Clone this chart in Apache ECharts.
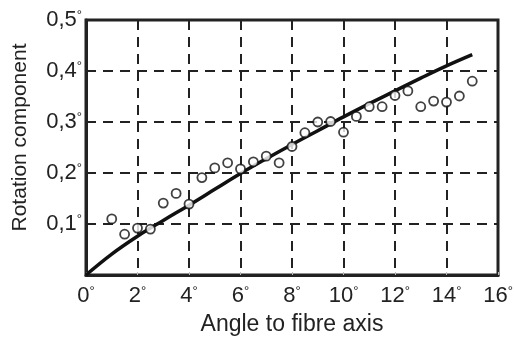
<!DOCTYPE html>
<html>
<head>
<meta charset="utf-8">
<script src="https://cdn.jsdelivr.net/npm/echarts@6/dist/echarts.min.js"></script>
<style>html,body{margin:0;padding:0;background:#fff}#c{width:514px;height:340px}</style>
</head>
<body>
<div id="c"></div>
<script>
var xTicks = [0, 2, 4, 6, 8, 10, 12, 14, 16];
var yTicks = [0.1, 0.2, 0.3, 0.4, 0.5];
var measuredAngle = [1, 1.5, 2, 2.5, 3, 3.5, 4, 4.5, 5, 5.5, 6, 6.5, 7, 7.5, 8, 8.5, 9, 9.5, 10, 10.5, 11, 11.5, 12, 12.5, 13, 13.5, 14, 14.5, 15];
var measuredRotation = [0.110, 0.080, 0.092, 0.090, 0.141, 0.160, 0.139, 0.191, 0.210, 0.220, 0.208, 0.222, 0.233, 0.220, 0.252, 0.279, 0.300, 0.301, 0.280, 0.311, 0.330, 0.330, 0.352, 0.361, 0.330, 0.341, 0.339, 0.351, 0.380];
var curveAngle = [0, 1, 2, 3, 4, 5, 6, 7, 8, 9, 10, 11, 12, 13, 14, 15];
var curveRotation = [0, 0.041, 0.076, 0.107, 0.137, 0.168, 0.199, 0.228, 0.256, 0.283, 0.310, 0.336, 0.361, 0.386, 0.410, 0.432];

var font = '"Liberation Sans", Arial, Helvetica, sans-serif';
var chart = echarts.init(document.getElementById('c'), null, {renderer: 'canvas'});
var gridLine = {show: true, lineStyle: {color: '#222', width: 2, type: [10, 7]}};
var rich = {
  n: {fontFamily: font, fontSize: 22, color: '#222'},
  d: {fontFamily: font, fontSize: 13, color: '#222', verticalAlign: 'top'}
};
chart.setOption({
  animation: false,
  grid: {left: 86, right: 16, top: 20, bottom: 65, show: true, borderColor: '#222', borderWidth: 3, backgroundColor: 'transparent', outerBoundsMode: 'none', containLabel: false},
  xAxis: {
    type: 'value', min: 0, max: 16, interval: 2,
    name: 'Angle to fibre axis', nameLocation: 'middle', nameGap: 38,
    nameTextStyle: {fontFamily: font, fontSize: 23, color: '#222'},
    axisLine: {show: true, lineStyle: {color: '#222', width: 3}},
    axisTick: {show: true, inside: true, length: 3, lineStyle: {color: '#bbb', width: 1}},
    axisLabel: {
      margin: 10, color: '#222', fontFamily: font, fontSize: 22,
      formatter: function (v) { return xTicks.indexOf(v) >= 0 ? '{n|' + v + '}{d|°}' : ''; },
      rich: rich
    },
    splitLine: gridLine
  },
  yAxis: {
    type: 'value', min: 0, max: 0.5, interval: 0.1,
    name: 'Rotation component', nameLocation: 'middle', nameGap: 55,
    nameTextStyle: {fontFamily: font, fontSize: 21, color: '#222', padding: [0, 0, 0, 20]},
    axisLine: {show: true, lineStyle: {color: '#222', width: 3}},
    axisTick: {show: false},
    axisLabel: {
      margin: 4, color: '#222', fontFamily: font, fontSize: 22,
      formatter: function (v) {
        var r = Math.round(v * 10) / 10;
        if (yTicks.indexOf(r) < 0) return '';
        return '{n|' + r.toFixed(1).replace('.', ',') + '}{d|°}';
      },
      rich: rich
    },
    splitLine: gridLine
  },
  series: [
    {
      type: 'line', smooth: 0.4, showSymbol: false, z: 3,
      data: curveAngle.map(function (a, i) { return [a, curveRotation[i]]; }),
      lineStyle: {color: '#111', width: 3.5}
    },
    {
      type: 'scatter', symbol: 'circle', symbolSize: 9, z: 4,
      data: measuredAngle.map(function (a, i) { return [a, measuredRotation[i]]; }),
      itemStyle: {color: '#fff', borderColor: '#111', borderWidth: 1.8}
    }
  ]
});
</script>
</body>
</html>
